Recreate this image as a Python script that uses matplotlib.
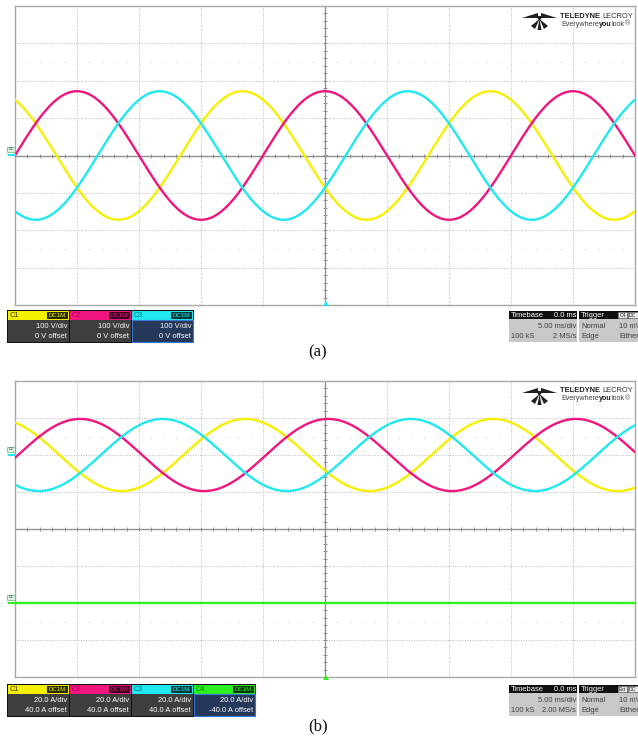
import numpy as np
import matplotlib
matplotlib.use("Agg")
import matplotlib.pyplot as plt
from matplotlib.patches import Rectangle, Polygon

# --- readings from the scope screens ---
freq_hz = 50.0
ms_per_div = 5.0

# panel (a): phase voltages, 100 V/div, 0 V offset
a_names = ["C1", "C2", "C3"]
a_amp_v = [172.0, 172.0, 172.0]
a_phase_deg = [120.0, 0.0, -120.0]  # at left edge of screen
a_scale = [100.0, 100.0, 100.0]
a_offset = [0.0, 0.0, 0.0]

# panel (b): phase currents, 20 A/div, 40 A offset; C4 neutral current ~0
b_names = ["C1", "C2", "C3", "C4"]
b_amp_a = [19.5, 19.5, 19.5, 0.0]
b_phase_deg = [120.0, 0.0, -120.0, 0.0]
b_shift_ms = 0.25
b_scale = [20.0, 20.0, 20.0, 20.0]
b_offset = [40.0, 40.0, 40.0, -40.0]

a_labels = [("100 V/div", "0 V offset")] * 3
b_labels = [("20.0 A/div", "40.0 A offset")] * 3 + [("20.0 A/div", "-40.0 A offset")]

ch_col = {"C1": "#f5f000", "C2": "#f0157f", "C3": "#20e8f0", "C4": "#2ef020"}
ch_dark = {"C1": "#3a3a00", "C2": "#b0005a", "C3": "#007a80", "C4": "#007a00"}
tag_bg = {"C1": "#2a2a00", "C2": "#3a0020", "C3": "#003a3c", "C4": "#003a00"}

W, H = 638, 741
fig = plt.figure(figsize=(W / 100, H / 100), dpi=100)


def scope_axes(top, bottom):
    ax = fig.add_axes([15 / W, 1 - bottom / H, 620 / W, (bottom - top) / H])
    ax.set_xlim(-25, 25)
    ax.set_ylim(-4, 4)
    ax.set_xticks([])
    ax.set_yticks([])
    for s in ax.spines.values():
        s.set_color("#a8a8a8")
        s.set_linewidth(1.0)
    for k in range(-4, 5):
        if k != 0:
            ax.axvline(k * ms_per_div, color="#bcbcbc", lw=0.7, ls=(0, (1, 1.5)), zorder=1)
    for k in range(-3, 4):
        if k != 0:
            ax.axhline(k, color="#bcbcbc", lw=0.7, ls=(0, (1, 1.5)), zorder=1)
    ax.axhline(0, color="#909090", lw=1.0, zorder=1)
    ax.axvline(0, color="#909090", lw=1.0, zorder=1)
    minor = np.arange(-25, 25.01, 1.0)
    ax.plot(minor, np.zeros_like(minor), ls="none", marker="|", ms=3, mew=0.7, color="#909090", zorder=1)
    mv = np.arange(-4, 4.01, 0.2)
    ax.plot(np.zeros_like(mv), mv, ls="none", marker="_", ms=3, mew=0.7, color="#909090", zorder=1)
    dx = np.array([m for m in minor if abs(m % 5) > 0.01])
    for yy in (2.5, -2.5):
        ax.plot(dx, np.full_like(dx, yy), ls="none", marker="s", ms=0.6, mew=0, color="#c4c4c4", zorder=1)
    return ax


t_ms = np.linspace(-25, 25, 2000)

ax_a = scope_axes(6, 305)
for n, amp, ph, sc, off in zip(a_names, a_amp_v, a_phase_deg, a_scale, a_offset):
    v = amp * np.sin(2 * np.pi * freq_hz * (t_ms + 25) / 1000 + np.radians(ph))
    ax_a.plot(t_ms, (v + off) / sc, color=ch_col[n], lw=1.7, zorder=3)

ax_b = scope_axes(381, 677)
for n, amp, ph, sc, off in zip(b_names, b_amp_a, b_phase_deg, b_scale, b_offset):
    v = amp * np.sin(2 * np.pi * freq_hz * (t_ms + 25 - b_shift_ms) / 1000 + np.radians(ph))
    ax_b.plot(t_ms, (v + off) / sc, color=ch_col[n], lw=1.7, zorder=3 if n != "C4" else 4)

# --- overlay in pixel coordinates ---
ov = fig.add_axes([0, 0, 1, 1], zorder=10)
ov.set_xlim(0, W)
ov.set_ylim(H, 0)
ov.axis("off")
ov.patch.set_alpha(0)
sans = "Liberation Sans"
renderer = fig.canvas.get_renderer()


def text_run(x, y, parts, size):
    # place text pieces one after another, return end x in pixels
    for s, wgt, col in parts:
        t = ov.text(x, y, s, fontsize=size, fontweight=wgt, family=sans, color=col, va="center")
        bb = t.get_window_extent(renderer)
        x += bb.width
    return x


def logo(y0):
    x0 = 522
    pts = [
        [(x0, y0 + 8), (x0 + 16, y0 + 3), (x0 + 16, y0 + 8)],
        [(x0 + 35, y0 + 8), (x0 + 19, y0 + 3), (x0 + 19, y0 + 8)],
        [(x0 + 17.5, y0 + 9), (x0 + 13, y0 + 19), (x0 + 9, y0 + 16)],
        [(x0 + 17.5, y0 + 9), (x0 + 15.5, y0 + 20), (x0 + 19.5, y0 + 20)],
        [(x0 + 17.5, y0 + 9), (x0 + 22, y0 + 19), (x0 + 26, y0 + 16)],
        [(x0 + 14, y0 + 6), (x0 + 21, y0 + 6), (x0 + 17.5, y0 + 11)],
    ]
    for p in pts:
        ov.add_patch(Polygon(p, closed=True, color="#202020", lw=0))
    text_run(560, y0 + 6, [("TELEDYNE ", "bold", "#202020"), ("LECROY", "normal", "#303030")], 5.45)
    text_run(561, y0 + 14, [("Everywhere", "normal", "#404040"), ("you", "bold", "#202020"),
                            ("look", "normal", "#404040"), ("\u00ae", "normal", "#606060")], 5.1)


logo(10)
logo(385)


def markers(names, yzero_list, trig_y, trig_col):
    for n, yz in zip(names, yzero_list):
        ov.add_patch(Rectangle((7, yz - 8), 8, 5, fc="#d8f0e0", ec="#40a060", lw=0.4))
        ov.text(11, yz - 5.5, n, fontsize=2.6, family=sans, color="#204030", ha="center", va="center")
        ov.plot([9, 15], [yz, yz], color=ch_col[n], lw=1.5)
    ov.add_patch(Polygon([(326, trig_y - 4), (323, trig_y + 1), (329, trig_y + 1)], closed=True, color=trig_col, lw=0))


markers(["C3"], [155], 305, ch_col["C3"])
markers(["C3", "C4"], [455, 603], 679, ch_col["C4"])


def chan_boxes(y, names, labels, sel):
    n_box = len(names)
    widths = 62
    ov.add_patch(Rectangle((7, y - 1), widths * n_box + 1, 33, fc="#101010", lw=0))
    for i, (n, (l1, l2)) in enumerate(zip(names, labels)):
        x = 8 + i * widths
        w = widths - 1
        ov.add_patch(Rectangle((x, y), w, 9, fc=ch_col[n], lw=0))
        ov.text(x + 2, y + 4.8, n, fontsize=5.2, family=sans, color=ch_dark[n], va="center")
        ov.add_patch(Rectangle((x + w - 22, y + 1), 21, 7, fc=tag_bg[n], lw=0))
        ov.text(x + w - 11.5, y + 4.8, "DC1M", fontsize=4.4, family=sans, color=ch_col[n], ha="center", va="center")
        if n == sel:
            ov.add_patch(Rectangle((x, y + 9), w, 22, fc="#26385a", ec="#3a78d0", lw=0.8))
        else:
            ov.add_patch(Rectangle((x, y + 9), w, 22, fc="#3e3e3e", lw=0))
        ov.text(x + w - 2, y + 15, l1, fontsize=5.4, family=sans, color="white", ha="right", va="center")
        ov.text(x + w - 2, y + 25, l2, fontsize=5.4, family=sans, color="white", ha="right", va="center")


def time_boxes(y, srate, trig_src):
    ov.add_patch(Rectangle((509, y), 68, 8, fc="#101010", lw=0))
    ov.add_patch(Rectangle((509, y + 8), 68, 23, fc="#c8c8c8", lw=0))
    ov.text(511, y + 4.2, "Timebase", fontsize=5.4, family=sans, color="white", va="center")
    ov.text(576, y + 4.2, "0.0 ms", fontsize=5.4, family=sans, color="white", va="center", ha="right")
    ov.text(576, y + 15, "5.00 ms/div", fontsize=5.4, family=sans, color="#404040", va="center", ha="right")
    ov.text(511, y + 25, "100 kS", fontsize=5.4, family=sans, color="#404040", va="center")
    ov.text(576, y + 25, srate, fontsize=5.4, family=sans, color="#404040", va="center", ha="right")
    ov.add_patch(Rectangle((579, y), 60, 8, fc="#101010", lw=0))
    ov.add_patch(Rectangle((579, y + 8), 60, 23, fc="#c8c8c8", lw=0))
    ov.text(581, y + 4.2, "Trigger", fontsize=5.4, family=sans, color="white", va="center")
    ov.add_patch(Rectangle((618, y + 1), 9, 6, fc="#e8e8e8", ec="#808080", lw=0.4))
    ov.text(622.5, y + 4.2, trig_src, fontsize=3.6, family=sans, color="#202020", va="center", ha="center")
    ov.add_patch(Rectangle((628, y + 1), 11, 6, fc="#e8e8e8", ec="#808080", lw=0.4))
    ov.text(629, y + 4.2, "DC", fontsize=3.6, family=sans, color="#202020", va="center")
    ov.text(581, y + 15, "Normal", fontsize=5.4, family=sans, color="#404040", va="center")
    ov.text(619, y + 15, "10 mV", fontsize=5.4, family=sans, color="#404040", va="center", clip_on=True)
    ov.text(581, y + 25, "Edge", fontsize=5.4, family=sans, color="#404040", va="center")
    ov.text(619, y + 25, "Either", fontsize=5.4, family=sans, color="#404040", va="center", clip_on=True)


chan_boxes(311, a_names, a_labels, "C3")
time_boxes(311, "2 MS/s", "C4")
chan_boxes(685, b_names, b_labels, "C4")
time_boxes(685, "2.00 MS/s", "Ext")

ov.text(318, 352, "(a)", fontsize=12, family="Liberation Serif", ha="center", va="center", color="#101010")
ov.text(318, 726, "(b)", fontsize=12, family="Liberation Serif", ha="center", va="center", color="#101010")

fig.savefig("out.png", dpi=100)
